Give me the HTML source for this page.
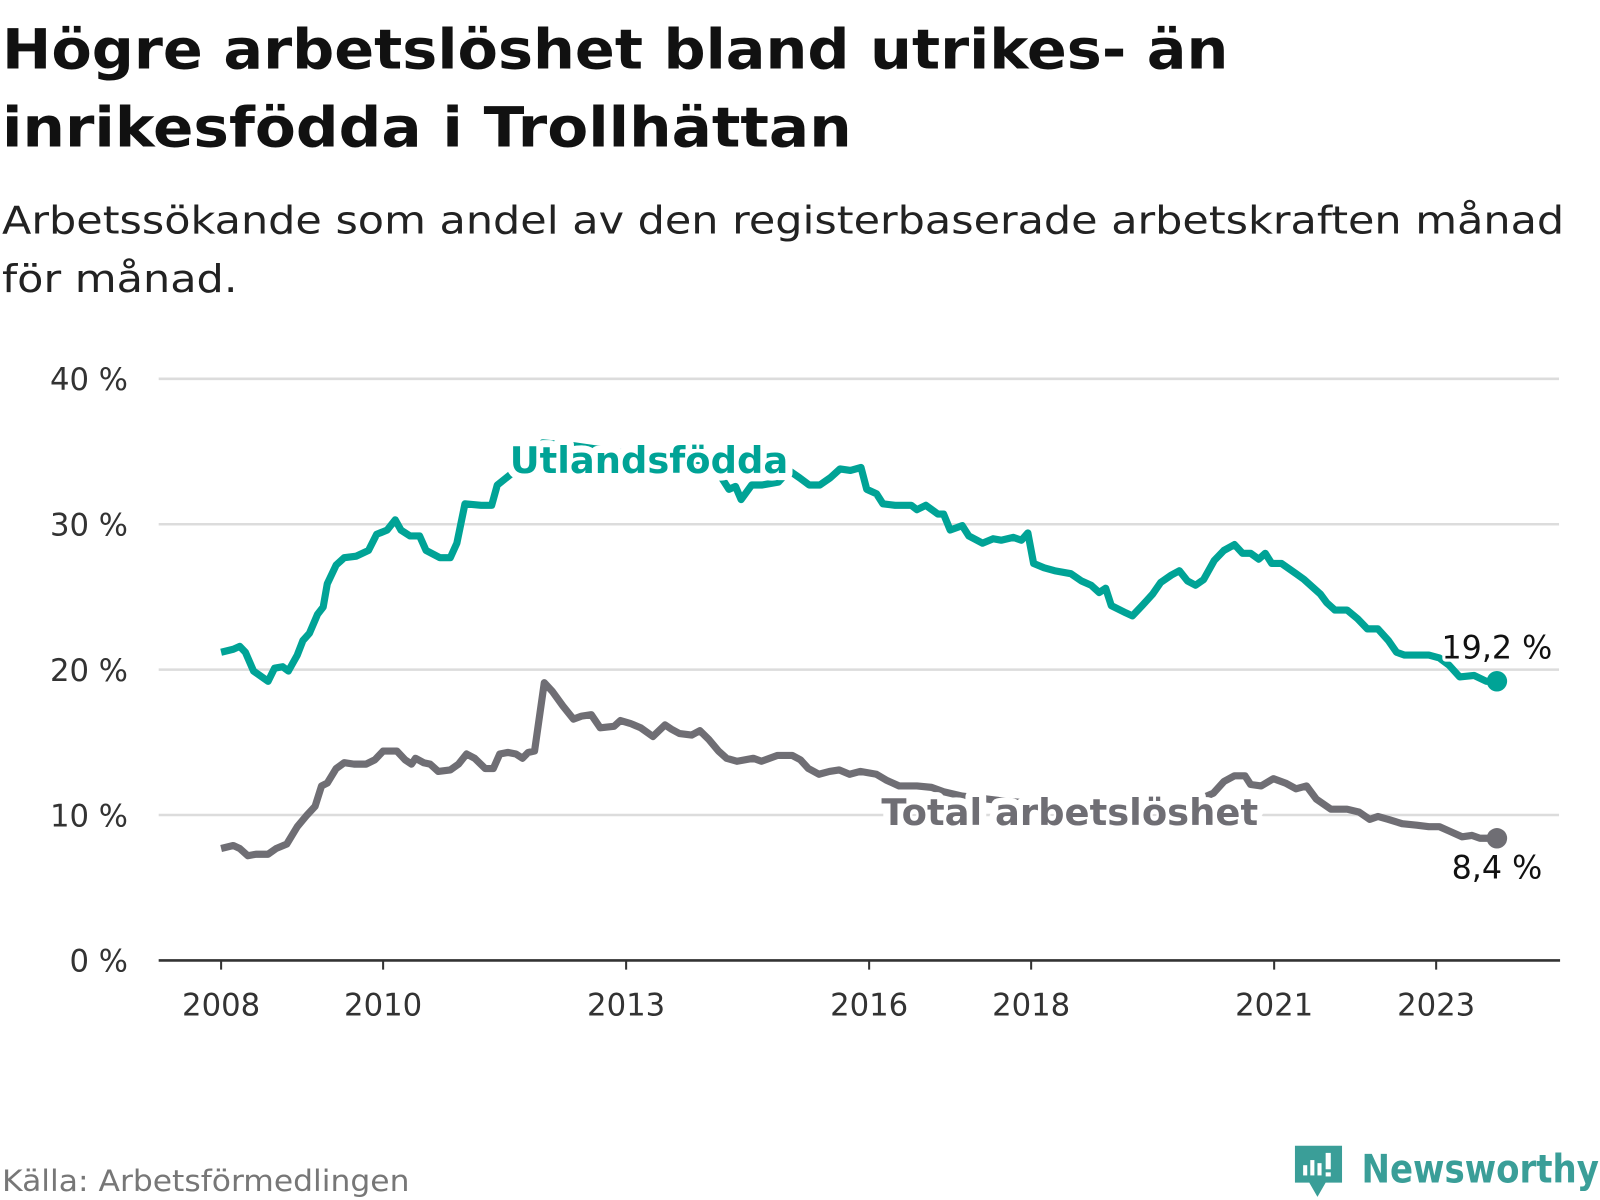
<!DOCTYPE html>
<html><head><meta charset="utf-8"><style>
html,body{margin:0;padding:0;background:#fff;}
svg{display:block;}
text{font-family:"DejaVu Sans","Liberation Sans",sans-serif;}
</style></head><body>
<svg id="chart" width="1600" height="1200" viewBox="0 0 1563 1172" preserveAspectRatio="none" xmlns="http://www.w3.org/2000/svg">
<text x="2" y="67" font-size="54" font-weight="bold" fill="#111" textLength="1198" lengthAdjust="spacingAndGlyphs">Högre arbetslöshet bland utrikes- än</text>
<text x="2" y="143" font-size="54" font-weight="bold" fill="#111" textLength="830" lengthAdjust="spacingAndGlyphs">inrikesfödda i Trollhättan</text>
<text x="2" y="228" font-size="37" fill="#222" textLength="1526" lengthAdjust="spacingAndGlyphs">Arbetssökande som andel av den registerbaserade arbetskraften månad</text>
<text x="2" y="285" font-size="37" fill="#222" textLength="230" lengthAdjust="spacingAndGlyphs">för månad.</text>
<g id="grid"></g><g id="axes"></g><g id="series"></g><g id="labels"></g>
<text x="2" y="1163" font-size="29" fill="#777" textLength="398" lengthAdjust="spacingAndGlyphs">Källa: Arbetsförmedlingen</text>
<g>
<path d="M1265 1119 h46 v36 h-16 l-8 14 l-8 -14 h-14 z" fill="#3a9e98"/>
<rect x="1273" y="1138" width="4" height="10" fill="#fff"/><rect x="1280" y="1133" width="4" height="15" fill="#fff"/><rect x="1287" y="1136" width="4" height="12" fill="#fff"/><rect x="1295" y="1126" width="5" height="16" fill="#fff"/><rect x="1295" y="1145" width="5" height="4" fill="#fff"/>
<text x="1330" y="1155" font-size="38" font-weight="bold" fill="#3a9e98" textLength="232" lengthAdjust="spacingAndGlyphs">Newsworthy</text>
</g>
</svg>
<script>
const yTicks=[0,10,20,30,40];
const xTicks=[2008,2010,2013,2016,2018,2021,2023];
const utlYears=[0,.15,.23,.30,.40,.58,.66,.76,.83,.94,1.01,1.09,1.19,1.26,1.31,1.42,1.52,1.67,1.82,1.92,2.05,2.15,2.22,2.33,2.45,2.53,2.70,2.83,2.91,3.01,3.21,3.34,3.41,3.59,3.97,4.35,4.85,5.36,5.87,6.12,6.27,6.35,6.42,6.55,6.68,6.88,7.01,7.14,7.26,7.39,7.52,7.64,7.77,7.90,7.97,8.09,8.17,8.32,8.52,8.59,8.70,8.85,8.92,9.00,9.15,9.23,9.40,9.53,9.63,9.78,9.88,9.96,10.03,10.16,10.29,10.49,10.62,10.74,10.84,10.92,10.99,11.17,11.25,11.37,11.50,11.60,11.73,11.83,11.93,12.03,12.13,12.26,12.38,12.51,12.61,12.71,12.81,12.89,12.97,13.09,13.27,13.37,13.57,13.65,13.75,13.90,14.03,14.15,14.28,14.41,14.51,14.61,14.81,14.91,15.04,15.16,15.29,15.47,15.62,15.75];
const utlValues=[21.2,21.4,21.6,21.2,19.9,19.2,20.1,20.2,19.9,21.0,22.0,22.5,23.8,24.3,25.9,27.2,27.7,27.8,28.2,29.3,29.6,30.3,29.6,29.2,29.2,28.2,27.7,27.7,28.7,31.4,31.3,31.3,32.7,33.5,35.6,35.4,35.0,34.6,34.2,33.7,32.4,32.6,31.7,32.7,32.7,32.9,33.7,33.2,32.7,32.7,33.2,33.8,33.7,33.9,32.4,32.1,31.4,31.3,31.3,31.0,31.3,30.7,30.7,29.6,29.9,29.2,28.7,29.0,28.9,29.1,28.9,29.4,27.3,27.0,26.8,26.6,26.1,25.8,25.3,25.6,24.4,23.9,23.7,24.4,25.2,26.0,26.5,26.8,26.1,25.8,26.2,27.5,28.2,28.6,28.0,28.0,27.6,28.0,27.3,27.3,26.6,26.2,25.2,24.6,24.1,24.1,23.5,22.8,22.8,22.0,21.2,21.0,21.0,21.0,20.8,20.3,19.5,19.6,19.2,19.2];
const totYears=[0,.15,.23,.33,.43,.58,.68,.81,.94,1.06,1.16,1.24,1.31,1.42,1.52,1.64,1.79,1.90,2.00,2.17,2.27,2.35,2.40,2.50,2.58,2.68,2.83,2.93,3.03,3.13,3.26,3.36,3.44,3.54,3.64,3.72,3.79,3.87,3.99,4.09,4.22,4.35,4.45,4.57,4.68,4.85,4.93,5.05,5.18,5.33,5.48,5.56,5.66,5.81,5.91,6.02,6.14,6.24,6.37,6.57,6.67,6.87,7.05,7.15,7.25,7.38,7.51,7.63,7.76,7.89,8.09,8.21,8.37,8.59,8.77,8.92,9.15,9.6,10.0,10.5,11.0,11.5,12.0,12.25,12.38,12.51,12.64,12.71,12.84,12.99,13.14,13.27,13.40,13.52,13.70,13.90,14.05,14.18,14.28,14.41,14.58,14.76,14.91,15.04,15.16,15.32,15.44,15.54,15.75];
const totValues=[7.7,7.9,7.7,7.2,7.3,7.3,7.7,8.0,9.2,10.0,10.6,12.0,12.2,13.2,13.6,13.5,13.5,13.8,14.4,14.4,13.8,13.5,13.9,13.6,13.5,13.0,13.1,13.5,14.2,13.9,13.2,13.2,14.2,14.3,14.2,13.9,14.3,14.4,19.1,18.5,17.5,16.6,16.8,16.9,16.0,16.1,16.5,16.3,16.0,15.4,16.2,15.9,15.6,15.5,15.8,15.2,14.4,13.9,13.7,13.9,13.7,14.1,14.1,13.8,13.2,12.8,13.0,13.1,12.8,13.0,12.8,12.4,12.0,12.0,11.9,11.6,11.3,11.0,10.8,10.6,10.5,10.6,10.9,11.5,12.3,12.7,12.7,12.1,12.0,12.5,12.2,11.8,12.0,11.1,10.4,10.4,10.2,9.7,9.9,9.7,9.4,9.3,9.2,9.2,8.9,8.5,8.6,8.4,8.4];
const NS='http://www.w3.org/2000/svg';
const X0=216,PXY=79.13,Y0=938,PXV=14.2;
function xs(yearOffset){return X0+yearOffset*PXY;}
function xYear(y){return xs(y-2008);}
function ys(v){return Y0-v*PXV;}
function mk(tag,attrs,parent){const e=document.createElementNS(NS,tag);for(const k in attrs)e.setAttribute(k,attrs[k]);parent.appendChild(e);return e;}
const grid=document.getElementById('grid'),axes=document.getElementById('axes'),series=document.getElementById('series'),labels=document.getElementById('labels');
yTicks.forEach(t=>{
  if(t>0){const l=mk('line',{x1:155,x2:1523,y1:ys(t),y2:ys(t),stroke:'#dcdcdc','stroke-width':2.5},grid);
  
  }
  const tx=mk('text',{x:125,y:ys(t)+11,'text-anchor':'end','font-size':30,fill:'#333'},axes);tx.textContent=t+' %';
  
  
});
const ax=mk('line',{x1:155,x2:1524,y1:Y0,y2:Y0,stroke:'#333','stroke-width':2.5},axes);


xTicks.forEach(t=>{
  const x=xYear(t);
  const tk=mk('line',{x1:x,x2:x,y1:Y0,y2:Y0+9,stroke:'#333','stroke-width':2},axes);
  
  
  const tx=mk('text',{x:x,y:Y0+54,'text-anchor':'middle','font-size':30,fill:'#333'},axes);tx.textContent=t;
  
  
});
function line(yrs,vals,color,name){
  const d=yrs.map((y,i)=>(i?'L':'M')+xs(y).toFixed(1)+' '+ys(vals[i]).toFixed(1)).join(' ');
  const p=mk('path',{d:d,fill:'none',stroke:color,'stroke-width':7,'stroke-linejoin':'round'},series);
  
  
  const n=yrs.length-1;
  const c=mk('circle',{cx:xs(yrs[n]),cy:ys(vals[n]),r:10,fill:color},series);
  
  
}
line(utlYears,utlValues,'#00a396','utlandsfodda');
line(totYears,totValues,'#6f6e74','total');
function lab(txt,x,y,size,weight,color,name,halo,len){
  const t=mk('text',{x:x,y:y,'text-anchor':'middle','font-size':size,'font-weight':weight,fill:color,stroke:'#fff','stroke-width':halo,'paint-order':'stroke','stroke-linejoin':'round'},labels);
  if(len){t.setAttribute('textLength',len);t.setAttribute('lengthAdjust','spacingAndGlyphs');}
  t.textContent=txt;
  
  
}
lab('Utlandsfödda',634,462,36,'bold','#00a396','utlandsfodda-label',14,272);
lab('Total arbetslöshet',1045,806,36,'bold','#6f6e74','total-label',14,368);
lab('19,2 %',xs(utlYears[utlYears.length-1]),643,31,'normal','#111','utlandsfodda-end-value',6);
lab('8,4 %',xs(totYears[totYears.length-1]),858,31,'normal','#111','total-end-value',6);
</script>
</body></html>
